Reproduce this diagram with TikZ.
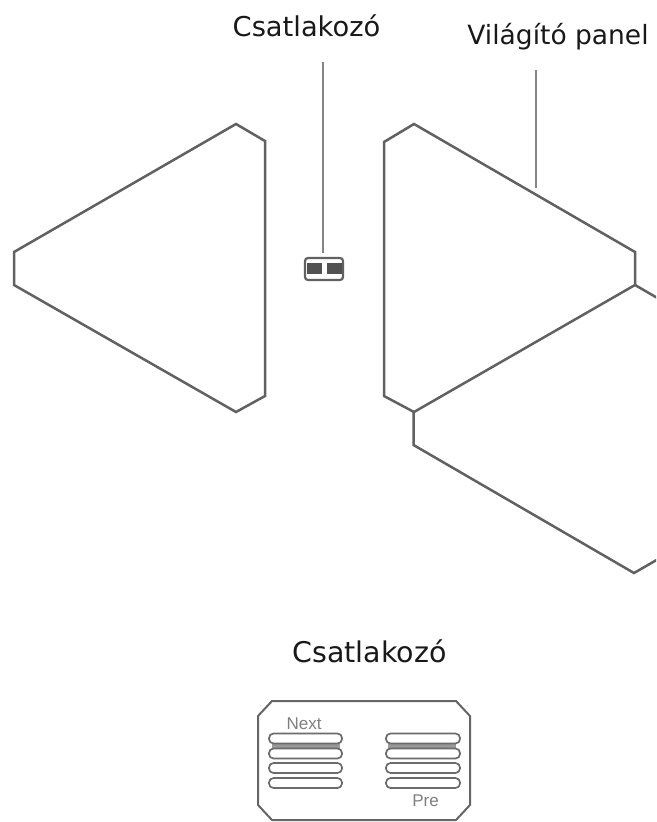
\documentclass[tikz,border=0pt]{standalone}
\usepackage{fontspec}
\setmainfont{DejaVu Sans}
\newfontfamily\smallfont{Liberation Sans}
\tikzset{
  panel/.style={draw=black!62,line width=2.5pt,line join=miter},
  leader/.style={draw=black!48,line width=2.6pt},
  biglabel/.style={text=black!90,inner sep=0pt,anchor=base},
  tinylabel/.style={font=\smallfont\fontsize{17}{20}\selectfont,text=black!50,inner sep=0pt,anchor=base},
  bar/.style={draw=black!58,line width=1.7pt,fill=white,rounded corners=4.5pt},
}
\begin{document}
\begin{tikzpicture}[x=1pt,y=-1pt]
\useasboundingbox[fill=white] (0,0) rectangle (656,822);
\begin{scope}
\clip (0,0) rectangle (656,822);
% panels
\draw[panel] (236,124) -- (265,141) -- (265,396) -- (236,412) -- (14,285) -- (14,252) -- cycle;
\draw[panel] (384,142) -- (414,124) -- (635,252) -- (635,285) -- (414,412) -- (384,396) -- cycle;
\draw[panel] (635,285) -- (660,299.5);
\draw[panel] (413.5,412) -- (413.5,445) -- (634,573) -- (660,558);
% leaders
\coordinate (csTop) at (323,62);
\coordinate (vpTop) at (536,70);
\coordinate (vpEnd) at (536,188);
\node[draw=black!62,line width=2.2pt,rounded corners=3pt,minimum width=38pt,minimum height=22pt,inner sep=0pt] (conn) at (324,269) {};
\fill[black!68] (306.5,263) rectangle (322,274);
\fill[black!68] (327,263) rectangle (342,274);
\draw[leader] (csTop) -- (323,253);
\draw[leader] (vpTop) -- (vpEnd);
% labels
\node[biglabel,font=\fontsize{27.3}{30}\selectfont] (lab1) at (306.5,36) {Csatlakozó};
\node[biglabel,font=\fontsize{26.5}{30}\selectfont] (lab2) at (558,44) {Világító panel};
\node[biglabel,font=\fontsize{28.5}{32}\selectfont] (lab3) at (369.5,662) {Csatlakozó};
% large connector
\draw[draw=black!60,line width=2pt] (272,701) -- (456,701) -- (470,716) -- (470,805) -- (456,820) -- (272,820) -- (258,805) -- (258,716) -- cycle;
\fill[black!40] (272,742) rectangle (340,751);
\fill[black!40] (388,742) rectangle (456,751);
\foreach \x/\w in {269/73,386/74} {
  \foreach \y in {733.5,748.5,763,778} {
    \draw[bar] (\x,\y) rectangle (\x+\w,\y+10);
  }
}
\node[tinylabel] (nx) at (304,729) {Next};
\node[tinylabel] (pr) at (425.5,806) {Pre};
\end{scope}
\end{tikzpicture}
\end{document}
